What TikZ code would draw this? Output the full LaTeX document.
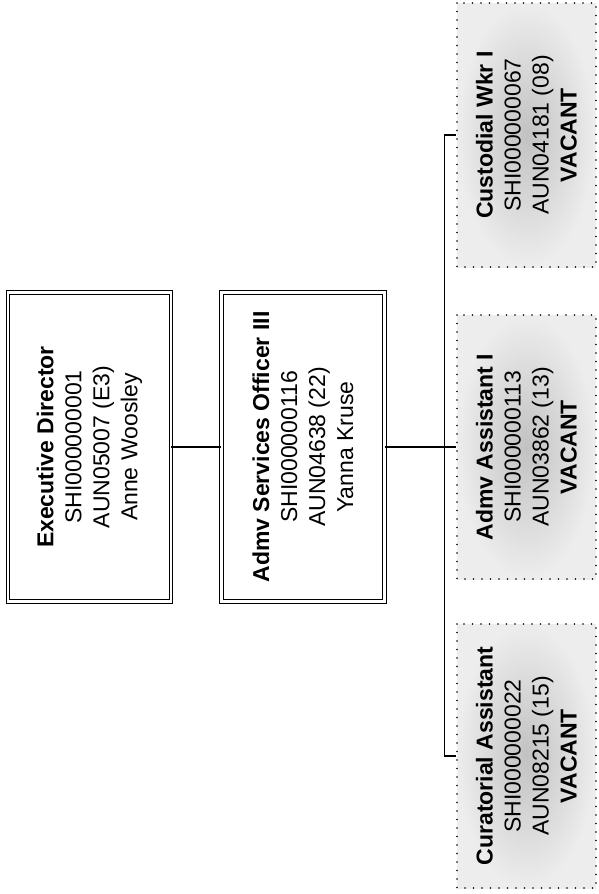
\documentclass[tikz,border=0pt]{standalone}
\usepackage{fontspec}
\setmainfont{Liberation Sans}

\begin{document}
\begin{tikzpicture}[x=1pt, y=-1pt,
    topbox/.style={draw, double, line width=0.9pt, double distance=2.8pt,
      rotate=90, minimum width=309pt, minimum height=163pt, inner sep=0pt,
      align=center, font=\fontsize{23}{28}\selectfont},
    vacbox/.style={draw, line width=1.8pt, dash pattern=on 0pt off 8.5pt,
      line cap=round, inner color=black!24, outer color=black!7,
      rotate=90, minimum width=264pt, minimum height=139pt, inner sep=0pt,
      align=center, font=\fontsize{23}{28}\selectfont},
    link/.style={line width=1.1pt}]
    \useasboundingbox (0,0) rectangle (598,894) ;
    % top of the chart
    \node[topbox] (exec) at (89.5,447) {\textbf{Executive Director}\\SHI000000001\\AUN05007 (E3)\\Anne Woosley} ;
    \node[topbox] (aso) at (303,447) {\textbf{Admv Services Officer III}\\SHI000000116\\AUN04638 (22)\\Yanna Kruse} ;
    % vacant positions
    \node[vacbox] (cust) at (526.5,135) {\textbf{Custodial Wkr I}\\SHI000000067\\AUN04181 (08)\\\textbf{VACANT}} ;
    \node[vacbox] (asst) at (526.5,447) {\textbf{Admv Assistant I}\\SHI000000113\\AUN03862 (13)\\\textbf{VACANT}} ;
    \node[vacbox] (cura) at (526.5,756) {\textbf{Curatorial Assistant}\\SHI000000022\\AUN08215 (15)\\\textbf{VACANT}} ;
    % connectors
    \draw[link] (exec.south) -- (aso.north) ;
    \draw[link] (aso.south) -- (asst.north) ;
    \draw[link] (cust.north) -- ++(-12,0) |- (cura.north) ;
  \end{tikzpicture}
\end{document}
